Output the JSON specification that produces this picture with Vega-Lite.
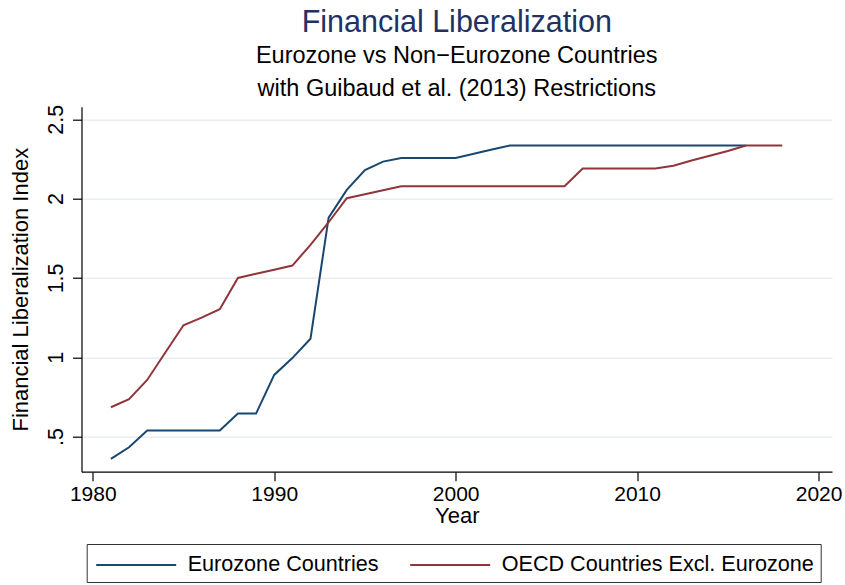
{
  "$schema": "https://vega.github.io/schema/vega-lite/v6.json",
  "autosize": "none",
  "width": 750.5,
  "height": 365,
  "padding": {"left": 81.5, "top": 106.7, "right": 13, "bottom": 113.3},
  "background": "white",
  "config": {
    "font": "Liberation Sans",
    "view": {"stroke": null}
  },
  "title": {
    "text": "Financial Liberalization",
    "subtitle": ["Eurozone vs Non−Eurozone Countries", "with Guibaud et al. (2013) Restrictions"],
    "anchor": "middle",
    "font": "Liberation Sans",
    "fontSize": 30.5,
    "fontWeight": "normal",
    "color": "#1f3263",
    "subtitleFont": "Liberation Sans",
    "subtitleFontSize": 23.5,
    "subtitleColor": "#000000",
    "subtitleLineHeight": 33,
    "subtitlePadding": 5,
    "offset": 4
  },
  "data": {
    "values": [
      {"year": 1981, "series": "Eurozone Countries", "value": 0.36},
      {"year": 1982, "series": "Eurozone Countries", "value": 0.433},
      {"year": 1983, "series": "Eurozone Countries", "value": 0.538},
      {"year": 1984, "series": "Eurozone Countries", "value": 0.538},
      {"year": 1985, "series": "Eurozone Countries", "value": 0.538},
      {"year": 1986, "series": "Eurozone Countries", "value": 0.538},
      {"year": 1987, "series": "Eurozone Countries", "value": 0.538},
      {"year": 1988, "series": "Eurozone Countries", "value": 0.645},
      {"year": 1989, "series": "Eurozone Countries", "value": 0.645},
      {"year": 1990, "series": "Eurozone Countries", "value": 0.889},
      {"year": 1991, "series": "Eurozone Countries", "value": 0.995},
      {"year": 1992, "series": "Eurozone Countries", "value": 1.117},
      {"year": 1993, "series": "Eurozone Countries", "value": 1.88},
      {"year": 1994, "series": "Eurozone Countries", "value": 2.055},
      {"year": 1995, "series": "Eurozone Countries", "value": 2.18},
      {"year": 1996, "series": "Eurozone Countries", "value": 2.233},
      {"year": 1997, "series": "Eurozone Countries", "value": 2.256},
      {"year": 1998, "series": "Eurozone Countries", "value": 2.256},
      {"year": 1999, "series": "Eurozone Countries", "value": 2.256},
      {"year": 2000, "series": "Eurozone Countries", "value": 2.256},
      {"year": 2001, "series": "Eurozone Countries", "value": 2.282},
      {"year": 2002, "series": "Eurozone Countries", "value": 2.309},
      {"year": 2003, "series": "Eurozone Countries", "value": 2.335},
      {"year": 2004, "series": "Eurozone Countries", "value": 2.335},
      {"year": 2005, "series": "Eurozone Countries", "value": 2.335},
      {"year": 2006, "series": "Eurozone Countries", "value": 2.335},
      {"year": 2007, "series": "Eurozone Countries", "value": 2.335},
      {"year": 2008, "series": "Eurozone Countries", "value": 2.335},
      {"year": 2009, "series": "Eurozone Countries", "value": 2.335},
      {"year": 2010, "series": "Eurozone Countries", "value": 2.335},
      {"year": 2011, "series": "Eurozone Countries", "value": 2.335},
      {"year": 2012, "series": "Eurozone Countries", "value": 2.335},
      {"year": 2013, "series": "Eurozone Countries", "value": 2.335},
      {"year": 2014, "series": "Eurozone Countries", "value": 2.335},
      {"year": 2015, "series": "Eurozone Countries", "value": 2.335},
      {"year": 2016, "series": "Eurozone Countries", "value": 2.335},
      {"year": 1981, "series": "OECD Countries Excl. Eurozone", "value": 0.685},
      {"year": 1982, "series": "OECD Countries Excl. Eurozone", "value": 0.736},
      {"year": 1983, "series": "OECD Countries Excl. Eurozone", "value": 0.857},
      {"year": 1984, "series": "OECD Countries Excl. Eurozone", "value": 1.03},
      {"year": 1985, "series": "OECD Countries Excl. Eurozone", "value": 1.202},
      {"year": 1986, "series": "OECD Countries Excl. Eurozone", "value": 1.25},
      {"year": 1987, "series": "OECD Countries Excl. Eurozone", "value": 1.303},
      {"year": 1988, "series": "OECD Countries Excl. Eurozone", "value": 1.5},
      {"year": 1989, "series": "OECD Countries Excl. Eurozone", "value": 1.526},
      {"year": 1990, "series": "OECD Countries Excl. Eurozone", "value": 1.552},
      {"year": 1991, "series": "OECD Countries Excl. Eurozone", "value": 1.578},
      {"year": 1992, "series": "OECD Countries Excl. Eurozone", "value": 1.708},
      {"year": 1993, "series": "OECD Countries Excl. Eurozone", "value": 1.851},
      {"year": 1994, "series": "OECD Countries Excl. Eurozone", "value": 2.002},
      {"year": 1995, "series": "OECD Countries Excl. Eurozone", "value": 2.027},
      {"year": 1996, "series": "OECD Countries Excl. Eurozone", "value": 2.053},
      {"year": 1997, "series": "OECD Countries Excl. Eurozone", "value": 2.078},
      {"year": 1998, "series": "OECD Countries Excl. Eurozone", "value": 2.078},
      {"year": 1999, "series": "OECD Countries Excl. Eurozone", "value": 2.078},
      {"year": 2000, "series": "OECD Countries Excl. Eurozone", "value": 2.078},
      {"year": 2001, "series": "OECD Countries Excl. Eurozone", "value": 2.078},
      {"year": 2002, "series": "OECD Countries Excl. Eurozone", "value": 2.078},
      {"year": 2003, "series": "OECD Countries Excl. Eurozone", "value": 2.078},
      {"year": 2004, "series": "OECD Countries Excl. Eurozone", "value": 2.078},
      {"year": 2005, "series": "OECD Countries Excl. Eurozone", "value": 2.078},
      {"year": 2006, "series": "OECD Countries Excl. Eurozone", "value": 2.078},
      {"year": 2007, "series": "OECD Countries Excl. Eurozone", "value": 2.19},
      {"year": 2008, "series": "OECD Countries Excl. Eurozone", "value": 2.19},
      {"year": 2009, "series": "OECD Countries Excl. Eurozone", "value": 2.19},
      {"year": 2010, "series": "OECD Countries Excl. Eurozone", "value": 2.19},
      {"year": 2011, "series": "OECD Countries Excl. Eurozone", "value": 2.19},
      {"year": 2012, "series": "OECD Countries Excl. Eurozone", "value": 2.207},
      {"year": 2013, "series": "OECD Countries Excl. Eurozone", "value": 2.24},
      {"year": 2014, "series": "OECD Countries Excl. Eurozone", "value": 2.27},
      {"year": 2015, "series": "OECD Countries Excl. Eurozone", "value": 2.30},
      {"year": 2016, "series": "OECD Countries Excl. Eurozone", "value": 2.335},
      {"year": 2017, "series": "OECD Countries Excl. Eurozone", "value": 2.335},
      {"year": 2018, "series": "OECD Countries Excl. Eurozone", "value": 2.335}
    ]
  },
  "mark": {"type": "line", "strokeWidth": 2, "clip": true},
  "encoding": {
    "x": {
      "field": "year",
      "type": "quantitative",
      "scale": {"domain": [1979.38, 2020.74], "nice": false, "zero": false},
      "axis": {
        "values": [1980, 1990, 2000, 2010, 2020],
        "format": "d",
        "title": "Year",
        "grid": false,
        "domainColor": "#000000",
        "domainWidth": 1.2,
        "tickColor": "#000000",
        "tickSize": 9,
        "tickWidth": 1.2,
        "labelFontSize": 21,
        "labelColor": "#000000",
        "labelPadding": 3,
        "labelFont": "Liberation Sans",
        "titleFont": "Liberation Sans",
        "titleFontSize": 22,
        "titleFontWeight": "normal",
        "titleColor": "#000000",
        "titlePadding": 1
      }
    },
    "y": {
      "field": "value",
      "type": "quantitative",
      "scale": {"domain": [0.279, 2.579], "nice": false, "zero": false},
      "axis": {
        "values": [0.5, 1, 1.5, 2, 2.5],
        "labelExpr": "datum.value == 0.5 ? '.5' : format(datum.value, '~g')",
        "title": "Financial Liberalization Index",
        "grid": true,
        "gridColor": "#e8eef1",
        "gridWidth": 1.5,
        "domainColor": "#000000",
        "domainWidth": 1.2,
        "tickColor": "#000000",
        "tickSize": 9,
        "tickWidth": 1.2,
        "labelAngle": 270,
        "labelAlign": "center",
        "labelBaseline": "bottom",
        "labelFontSize": 21.5,
        "labelColor": "#000000",
        "labelPadding": 5,
        "labelFont": "Liberation Sans",
        "titleFont": "Liberation Sans",
        "titleFontSize": 22,
        "titleFontWeight": "normal",
        "titleColor": "#000000",
        "titlePadding": 13
      }
    },
    "color": {
      "field": "series",
      "type": "nominal",
      "scale": {
        "domain": ["Eurozone Countries", "OECD Countries Excl. Eurozone"],
        "range": ["#1a476f", "#90353b"]
      },
      "legend": {
        "title": null,
        "orient": "none",
        "legendX": 5.2,
        "legendY": 437.3,
        "direction": "horizontal",
        "columns": 2,
        "columnPadding": 27,
        "symbolType": "M-3,0L3,0",
        "symbolSize": 711,
        "symbolStrokeWidth": 2,
        "symbolOffset": 29,
        "labelFontSize": 21.6,
        "labelFont": "Liberation Sans",
        "labelColor": "#000000",
        "labelOffset": 37,
        "labelLimit": 400,
        "fillColor": "#ffffff",
        "strokeColor": "#333333",
        "padding": 6
      }
    }
  }
}
